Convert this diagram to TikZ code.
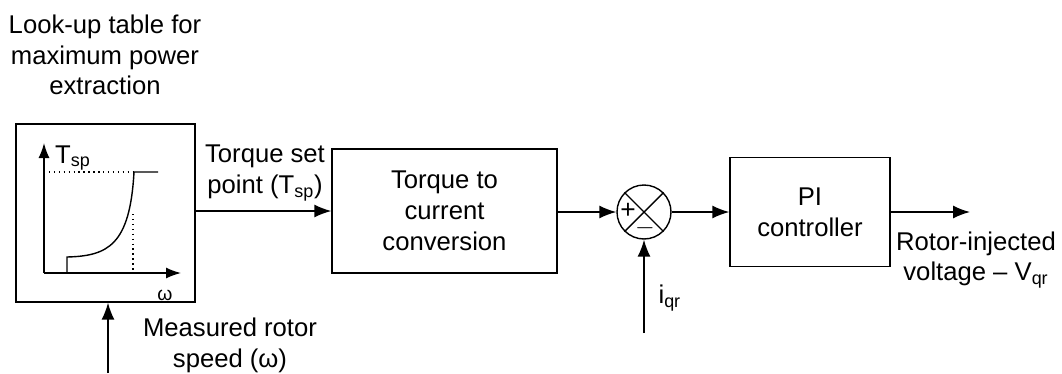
\documentclass[tikz,border=0pt]{standalone}
\usepackage{fontspec}
\setmainfont{Liberation Sans}
\usepackage{tikz}
\usetikzlibrary{arrows.meta,positioning,calc}

\begin{document}
\begin{tikzpicture}[x=0.02cm,y=-0.02cm,line width=0.8pt,
  font=\fontsize{14.6}{17.5}\selectfont,
  blk/.style={draw,rectangle,align=center,inner sep=0pt},
  sig/.style={-{Latex[length=3.4mm,width=2.6mm]}}]
  \useasboundingbox (0,0) rectangle (1062,373);
  % blocks
  \node[blk,minimum width=3.58cm,minimum height=3.56cm] (lut) at (105.5,213) {};
  \node[blk,minimum width=4.5cm,minimum height=2.48cm] (conv) at (444.5,211) {Torque to\\current\\conversion};
  \node[draw,circle,minimum size=1.08cm,inner sep=0pt] (sum) at (644,212) {};
  \draw (sum.45)--(sum.225); \draw (sum.135)--(sum.315);
  \node[font=\fontsize{15}{15}\selectfont,inner sep=0pt] (plus) at (628,211) {+};
  \node[font=\fontsize{15}{15}\selectfont,inner sep=0pt] (minus) at (645,228) {$-$};
  \node[blk,minimum width=3.2cm,minimum height=2.18cm] (pi) at (810,212) {PI\\controller};
  \coordinate (vout) at (970,212);
  \coordinate (wmeas) at (108,373);
  \coordinate (iqin) at (644,333);
  % look-up curve
  \coordinate (org) at (44,273);
  \draw[-{Latex[length=3mm,width=2.2mm]}] (org)--(44,143);
  \draw[-{Latex[length=3mm,width=2.2mm]}] (org)--(181,273);
  \draw[dotted] (44,172)--(134,172);
  \draw[dotted] (133,214)--(133,273);
  \draw (67,273)--(67,257) .. controls (108,256) and (130,245) .. (134,172)--(158,172);
  \node (tax) at (73,158) {T\textsubscript{sp}};
  \node[font=\fontsize{11}{11}\selectfont] (wax) at (165,295) {ω};
  % connectors
  \draw[sig] (lut.east|-conv.west)--(conv.west);
  \draw[sig] (conv.east|-sum.west)--(sum.west);
  \draw[sig] (sum.east)--(pi.west);
  \draw[sig] (pi.east)--(vout);
  \draw[sig] (wmeas)--(wmeas|-lut.south);
  \draw[sig] (iqin)--(sum.south);
  % labels
  \node[align=center] (title) at (105,55) {Look-up table for\\maximum power\\extraction};
  \node[align=center] (tsp) at (265,173) {Torque set\\point (T\textsubscript{sp})};
  \node[align=center] (wlab) at (230,345) {Measured rotor\\speed (ω)};
  \node[anchor=west] (iq) at (652,298) {i\textsubscript{qr}};
  \node[align=center] (vlab) at (976,260) {Rotor-injected\\voltage – V\textsubscript{qr}};
\end{tikzpicture}
\end{document}
